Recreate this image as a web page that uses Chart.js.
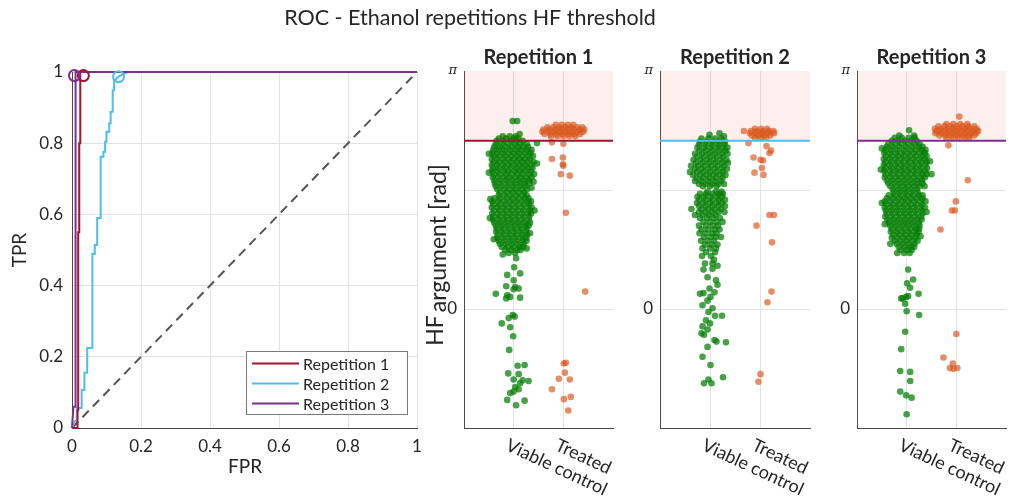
<!DOCTYPE html>
<html><head><meta charset="utf-8">
<script src="https://cdn.jsdelivr.net/npm/chart.js@4.4.0/dist/chart.umd.min.js"></script>
<style>
html,body{margin:0;padding:0;background:#fff;}
#wrap{position:relative;width:1019px;height:501px;overflow:hidden;background:#fff;}
canvas{position:absolute;left:0;top:0;}
</style></head><body>
<div id="wrap">
<canvas id="roc" width="1019" height="501"></canvas>
<canvas id="r1" width="1019" height="501"></canvas>
<canvas id="r2" width="1019" height="501"></canvas>
<canvas id="r3" width="1019" height="501"></canvas>
</div>
<script>
// ---------------- DATA ----------------
const figureTitle = 'ROC - Ethanol repetitions HF threshold';
const repetitionNames = ['Repetition 1', 'Repetition 2', 'Repetition 3'];
const categories = ['Viable control', 'Treated'];
const categoryPositions = [1, 2];
const rocTicks = [0, 0.2, 0.4, 0.6, 0.8, 1];
const rocChance = [[0, 0], [1, 1]];
// ROC curves [FPR, TPR]
const rocRep1 = [[0,0],[0.016,0],[0.016,0.05],[0.018,0.05],[0.018,0.55],[0.021,0.55],[0.021,0.8],[0.024,0.8],[0.024,1],[1,1]];
const rocRep2 = [[0,0],[0.009,0.02],[0.014,0.02],[0.014,0.056],[0.028,0.056],[0.028,0.107],[0.036,0.107],[0.036,0.155],[0.044,0.155],[0.044,0.225],[0.059,0.225],[0.059,0.489],[0.066,0.489],[0.066,0.514],[0.073,0.514],[0.073,0.59],[0.083,0.59],[0.083,0.762],[0.091,0.762],[0.091,0.776],[0.096,0.776],[0.096,0.804],[0.100,0.804],[0.100,0.832],[0.108,0.832],[0.108,0.856],[0.112,0.856],[0.112,0.888],[0.118,0.888],[0.118,0.949],[0.122,0.949],[0.122,0.975],[0.135,0.987],[0.16,1],[1,1]];
const rocRep3 = [[0,0],[0.004,0.06],[0.009,0.06],[0.009,0.97],[0.011,0.97],[0.011,1],[1,1]];
// operating points (FPR, TPR) for each repetition
const operatingFPR = [0.033, 0.135, 0.007];
const operatingTPR = [0.99, 0.987, 0.99];
// HF thresholds [rad]
const thresholds = [2.22, 2.22, 2.22];
const phaseTicks = [-Math.PI / 2, 0, Math.PI / 2, Math.PI];

// swarm rows: [HF argument (rad), [jitter offsets from category centre]]
const rep1Viable = [
[2.48,[-0.02,0.07]],[2.19,[0.47]],[2.31,[0.12]],
[2.28,[-0.22,-0.08,0.04]],[2.25,[-0.30,-0.15,0.00,0.09]],[2.22,[-0.34,-0.20,-0.05,0.06,0.18]],
[2.18,[-0.36,-0.24,-0.11,0.02,0.13,0.26]],[2.14,[-0.39,-0.28,-0.16,-0.04,0.08,0.19,0.29]],
[2.10,[-0.41,-0.30,-0.19,-0.07,0.05,0.16,0.27,0.36]],[2.06,[-0.43,-0.33,-0.21,-0.10,0.01,0.12,0.24,0.34]],
[2.02,[-0.40,-0.29,-0.17,-0.05,0.07,0.18,0.30,0.39]],[1.98,[-0.44,-0.34,-0.22,-0.11,0.00,0.11,0.22,0.33]],
[1.94,[-0.41,-0.30,-0.18,-0.06,0.06,0.17,0.28,0.40]],[1.90,[-0.44,-0.33,-0.21,-0.09,0.03,0.14,0.25,0.36]],
[1.86,[-0.42,-0.31,-0.19,-0.07,0.05,0.16,0.27,0.38]],[1.82,[-0.43,-0.32,-0.20,-0.10,0.02,0.13,0.24,0.35]],
[1.78,[-0.40,-0.28,-0.16,-0.05,0.07,0.18,0.30,0.41]],[1.74,[-0.42,-0.31,-0.19,-0.08,0.04,0.15,0.26,0.36]],
[1.70,[-0.39,-0.27,-0.15,-0.03,0.09,0.20,0.31]],[1.66,[-0.38,-0.26,-0.13,-0.01,0.11,0.22,0.32]],
[1.62,[-0.36,-0.24,-0.12,0.00,0.12,0.24]],[1.58,[-0.33,-0.20,-0.08,0.04,0.16,0.27]],
[1.54,[-0.28,-0.15,-0.03,0.09,0.21]],[1.50,[-0.30,-0.18,-0.06,0.06,0.18,0.26]],
[1.46,[-0.39,-0.27,-0.14,-0.02,0.10,0.22,0.30]],[1.42,[-0.43,-0.31,-0.19,-0.07,0.05,0.17,0.29,0.35]],
[1.38,[-0.41,-0.29,-0.17,-0.05,0.07,0.19,0.31]],[1.34,[-0.44,-0.32,-0.20,-0.08,0.04,0.16,0.28,0.36]],
[1.30,[-0.40,-0.28,-0.16,-0.04,0.08,0.20,0.32]],[1.26,[-0.43,-0.31,-0.19,-0.07,0.05,0.17,0.29,0.35]],
[1.22,[-0.41,-0.29,-0.17,-0.05,0.07,0.19,0.31]],[1.18,[-0.42,-0.30,-0.18,-0.06,0.06,0.18,0.30]],
[1.14,[-0.39,-0.27,-0.15,-0.03,0.09,0.21,0.33]],[1.10,[-0.36,-0.24,-0.12,0.00,0.12,0.24,0.30]],
[1.06,[-0.34,-0.22,-0.10,0.02,0.14,0.26]],[1.02,[-0.35,-0.23,-0.11,0.01,0.13,0.25]],
[0.98,[-0.32,-0.20,-0.08,0.04,0.16,0.27]],[0.94,[-0.33,-0.21,-0.09,0.03,0.15,0.25]],
[0.90,[-0.30,-0.18,-0.06,0.06,0.18,0.26]],[0.86,[-0.28,-0.16,-0.04,0.08,0.20]],
[0.82,[-0.24,-0.12,0.00,0.12,0.19]],[0.78,[-0.17,-0.05,0.07,0.14]],[0.74,[-0.10,0.03]],
[2.05,[-0.50]],[1.92,[0.47]],[1.80,[-0.50]],[1.68,[0.40]],[1.60,[0.36]],[1.45,[-0.47]],[1.30,[0.42]],
[1.20,[-0.48]],[1.00,[0.33]],[0.92,[-0.40]],[0.80,[0.26]],[0.72,[-0.22]],
[0.67,[0.05]],[0.55,[0.01]],[0.47,[0.13]],[0.45,[-0.13]],[0.38,[0.00]],[0.30,[-0.15]],[0.29,[0.03]],
[0.27,[0.10]],[0.26,[0.00]],[0.20,[-0.36]],[0.18,[-0.13]],[0.16,[-0.07]],[0.15,[0.13]],[0.14,[-0.15]],
[-0.08,[-0.02]],[-0.10,[0.02]],[-0.12,[-0.10]],[-0.19,[-0.24]],[-0.24,[-0.07]],[-0.36,[-0.01]],
[-0.54,[-0.09]],[-0.74,[0.22]],[-0.75,[0.08]],[-0.85,[-0.11]],[-0.86,[0.10]],[-0.93,[0.00]],
[-0.94,[0.18]],[-0.95,[0.30]],[-0.98,[0.13]],[-1.03,[0.03]],[-1.06,[0.10]],[-1.09,[0.00]],
[-1.11,[-0.07]],[-1.20,[-0.13]],[-1.21,[0.22]],[-1.27,[0.05]]
];
const rep1Treated = [
[2.43,[-0.15,-0.03,0.09,0.20]],[2.40,[-0.32,-0.20,-0.08,0.04,0.16,0.28,0.38]],
[2.37,[-0.40,-0.28,-0.16,-0.04,0.08,0.20,0.32,0.42]],[2.34,[-0.42,-0.30,-0.18,-0.06,0.06,0.18,0.30,0.40]],
[2.31,[-0.38,-0.26,-0.14,-0.02,0.10,0.22,0.34]],[2.28,[-0.25,-0.12,0.00,0.12,0.24]],
[2.20,[-0.23]],[2.18,[0.00]],[2.00,[-0.01]],[1.98,[-0.23]],[1.91,[-0.01]],[1.89,[0.00]],
[1.78,[-0.05]],[1.76,[0.13]],[1.27,[0.05]],[0.23,[0.44]],[-0.71,[0.05]],[-0.72,[0.01]],
[-0.84,[0.03]],[-0.92,[-0.09]],[-0.93,[0.13]],[-1.06,[-0.23]],[-1.16,[0.15]],[-1.19,[0.01]],[-1.34,[0.10]]
];
const rep2Viable = [
[2.32,[0.19]],[2.30,[-0.01]],[2.28,[0.28]],
[2.25,[-0.17,-0.03,0.10,0.22]],[2.21,[-0.20,-0.07,0.06,0.18,0.30]],[2.17,[-0.22,-0.09,0.04,0.17,0.29]],
[2.13,[-0.25,-0.12,0.01,0.14,0.26,0.35]],[2.09,[-0.21,-0.08,0.05,0.18,0.31]],
[2.05,[-0.30,-0.16,-0.03,0.10,0.23,0.35]],[2.01,[-0.26,-0.13,0.00,0.13,0.26]],
[1.97,[-0.33,-0.19,-0.06,0.07,0.20,0.33]],[1.93,[-0.28,-0.15,-0.02,0.11,0.24,0.36]],
[1.89,[-0.38,-0.24,-0.11,0.02,0.15,0.28]],[1.85,[-0.30,-0.17,-0.04,0.09,0.22,0.34]],
[1.81,[-0.40,-0.26,-0.13,0.00,0.13,0.26]],[1.77,[-0.34,-0.20,-0.07,0.06,0.19,0.31]],
[1.73,[-0.27,-0.14,-0.01,0.12,0.25]],[1.69,[-0.30,-0.17,-0.04,0.09,0.22]],
[1.65,[-0.22,-0.09,0.04,0.17,0.28]],[1.62,[-0.14,0.00,0.13]],
[1.55,[-0.05,0.12,0.23]],[1.52,[-0.20,-0.08,0.05,0.17,0.26]],[1.48,[-0.25,-0.12,0.01,0.14,0.24]],
[1.44,[-0.21,-0.08,0.05,0.18,0.30]],[1.40,[-0.26,-0.13,0.00,0.13,0.24]],
[1.36,[-0.22,-0.09,0.04,0.17,0.30]],[1.32,[-0.37,-0.17,-0.04,0.09,0.22]],
[1.28,[-0.22,-0.09,0.04,0.17,0.29]],[1.24,[-0.30,-0.15,-0.02,0.11]],[1.20,[-0.20,-0.06,0.07,0.20]],
[1.15,[-0.13,0.00,0.13,0.25]],[1.10,[-0.22,-0.08,0.05,0.16]],[1.05,[-0.17,-0.04,0.09,0.19]],
[1.00,[-0.21,-0.09,0.04,0.13]],[0.95,[-0.12,0.01,0.12,0.22]],[0.90,[-0.18,-0.05,0.08]],
[0.85,[-0.10,0.03,0.15]],[0.80,[-0.15,0.00,0.12]],[0.75,[-0.08,0.10]],[0.70,[-0.16,0.02]],
[0.65,[0.08]],[0.60,[-0.10,0.05]],[0.57,[0.15]],
[0.53,[0.05]],[0.52,[-0.13]],[0.42,[-0.05]],[0.38,[0.12]],[0.32,[0.15]],[0.27,[-0.01]],
[0.22,[0.09]],[0.21,[-0.13]],[0.20,[-0.20]],[0.16,[0.01]],[0.11,[-0.05]],[0.05,[-0.15]],
[0.01,[0.05]],[-0.04,[-0.03]],[-0.09,[0.10,0.24]],[-0.15,[-0.08]],[-0.19,[0.00]],[-0.23,[-0.15]],
[-0.27,[-0.05]],[-0.32,[-0.17]],[-0.34,[-0.12]],[-0.41,[0.09]],[-0.43,[0.13]],[-0.44,[0.32]],
[-0.50,[-0.05]],[-0.63,[-0.15]],[-0.74,[0.01]],[-0.90,[0.26]],[-0.93,[-0.03]],[-0.98,[-0.12,0.03]]
];
const rep2Treated = [
[2.38,[-0.10,0.02,0.14]],[2.35,[-0.32,-0.18,-0.06,0.06,0.18,0.27]],[2.32,[-0.20,-0.08,0.04,0.16,0.28]],
[2.29,[-0.16,-0.04,0.08,0.20]],[2.26,[-0.10,0.02,0.12]],
[2.19,[-0.23]],[2.15,[0.13]],[2.09,[0.22]],[2.06,[0.19]],[2.00,[-0.13]],[1.97,[0.01]],[1.96,[0.06]],
[1.86,[0.04]],[1.80,[-0.11]],[1.77,[0.07]],[1.24,[0.19,0.28]],[1.10,[-0.07]],[0.88,[0.24]],
[0.23,[0.23]],[0.09,[0.15]],[-0.86,[0.01]],[-0.96,[-0.03]]
];
const rep3Viable = [
[2.36,[0.05]],[2.29,[-0.15,0.15]],[2.26,[-0.24,-0.10,0.04,0.16]],[2.22,[-0.30,-0.17,-0.04,0.09,0.20]],
[2.18,[-0.37,-0.24,-0.11,0.02,0.15,0.26]],[2.14,[-0.40,-0.28,-0.15,-0.02,0.11,0.24,0.32]],
[2.10,[-0.43,-0.31,-0.19,-0.06,0.07,0.19,0.31,0.38]],[2.06,[-0.45,-0.33,-0.21,-0.09,0.03,0.15,0.27,0.37]],
[2.02,[-0.42,-0.30,-0.18,-0.06,0.06,0.18,0.30,0.40]],[1.98,[-0.46,-0.34,-0.22,-0.10,0.02,0.14,0.26,0.37]],
[1.94,[-0.43,-0.31,-0.19,-0.07,0.05,0.17,0.29,0.40]],[1.90,[-0.46,-0.34,-0.22,-0.10,0.02,0.14,0.26,0.38]],
[1.86,[-0.43,-0.31,-0.19,-0.07,0.05,0.17,0.29,0.41]],[1.82,[-0.45,-0.33,-0.21,-0.09,0.03,0.15,0.27,0.38]],
[1.78,[-0.42,-0.30,-0.18,-0.06,0.06,0.18,0.30,0.40,0.50]],[1.74,[-0.44,-0.32,-0.20,-0.08,0.04,0.16,0.28,0.37]],
[1.70,[-0.40,-0.28,-0.16,-0.04,0.08,0.20,0.31]],[1.66,[-0.37,-0.25,-0.13,-0.01,0.11,0.23,0.32]],
[1.62,[-0.33,-0.21,-0.09,0.03,0.15,0.26]],[1.58,[-0.28,-0.16,-0.04,0.08,0.20]],
[1.54,[-0.26,-0.14,-0.02,0.10,0.22]],[1.50,[-0.36,-0.24,-0.12,0.00,0.12,0.24,0.32]],
[1.46,[-0.40,-0.28,-0.16,-0.04,0.08,0.20,0.32]],[1.42,[-0.44,-0.32,-0.20,-0.08,0.04,0.16,0.28,0.38]],
[1.38,[-0.41,-0.29,-0.17,-0.05,0.07,0.19,0.31]],[1.34,[-0.44,-0.32,-0.20,-0.08,0.04,0.16,0.28,0.37]],
[1.30,[-0.42,-0.30,-0.18,-0.06,0.06,0.18,0.30]],[1.26,[-0.40,-0.28,-0.16,-0.04,0.08,0.20,0.32]],
[1.22,[-0.43,-0.31,-0.19,-0.07,0.05,0.17,0.29]],[1.18,[-0.39,-0.27,-0.15,-0.03,0.09,0.21,0.30]],
[1.14,[-0.36,-0.24,-0.12,0.00,0.12,0.24]],[1.10,[-0.33,-0.21,-0.09,0.03,0.15,0.26]],
[1.06,[-0.30,-0.18,-0.06,0.06,0.18,0.25]],[1.02,[-0.32,-0.20,-0.08,0.04,0.16,0.24]],
[0.98,[-0.27,-0.15,-0.03,0.09,0.20]],[0.94,[-0.30,-0.18,-0.06,0.06,0.18]],
[0.90,[-0.24,-0.12,0.00,0.12,0.22]],[0.86,[-0.20,-0.08,0.04,0.16]],[0.82,[-0.16,-0.04,0.08,0.15]],
[0.78,[-0.12,0.00,0.10]],[0.74,[-0.19,-0.05,0.06]],
[2.12,[-0.50]],[1.95,[0.47]],[1.84,[-0.52]],[1.62,[0.36]],[1.40,[-0.50]],[1.28,[0.40]],
[1.12,[-0.44]],[0.96,[0.28]],[0.86,[-0.33]],
[0.52,[0.03]],[0.39,[0.13]],[0.34,[0.01]],[0.28,[0.07]],[0.20,[0.24]],[0.17,[0.03]],[0.16,[-0.01]],
[0.14,[-0.08,-0.11]],[0.07,[-0.03]],[-0.03,[0.00]],[-0.08,[0.25]],[-0.30,[-0.03]],[-0.53,[-0.11]],
[-0.82,[-0.13]],[-0.83,[0.07]],[-0.95,[0.07]],[-1.09,[-0.13]],[-1.14,[-0.01]],[-1.17,[0.10]],[-1.39,[0.00]]
];
const rep3Treated = [
[2.44,[-0.20,-0.06,0.08,0.22]],[2.41,[-0.36,-0.24,-0.12,0.00,0.12,0.24,0.36]],
[2.38,[-0.43,-0.31,-0.19,-0.07,0.05,0.17,0.29,0.41]],[2.35,[-0.40,-0.28,-0.16,-0.04,0.08,0.20,0.32,0.44]],
[2.32,[-0.42,-0.30,-0.18,-0.06,0.06,0.18,0.30,0.40]],[2.29,[-0.34,-0.22,-0.10,0.02,0.14,0.26,0.36]],
[2.26,[-0.20,-0.08,0.04,0.16,0.26]],
[2.54,[0.06]],[2.16,[-0.16]],[1.70,[0.23]],[1.42,[-0.01]],[1.30,[-0.09,-0.03]],[1.05,[-0.32]],
[-0.33,[0.00]],[-0.64,[-0.26]],[-0.72,[-0.07]],[-0.78,[-0.13,0.02]],[-0.79,[-0.06]]
];

// ---------------- STYLE / HELPERS ----------------
const FONT = 'Lato, "Open Sans", sans-serif';
const TXT = '#262626';
const GRID = '#e2e2e2';
const AXIS = '#4a4a4a';
const repColors = ['#A2142F', '#4DBEEE', '#7E2F8E'];
const greenPt = 'rgba(0,125,0,0.72)';
const orangePt = 'rgba(217,83,25,0.66)';
const shade = 'rgba(225,95,85,0.1)';
Chart.defaults.font.family = FONT;
Chart.defaults.color = TXT;

const pairs = arr => arr.map(([x, y]) => ({x, y}));
const swarm = (rows, centre) => rows.flatMap(([y, dxs]) => dxs.map(dx => ({x: centre + dx, y})));
const fixSize = size => scale => { if (scale.isHorizontal()) scale.height = size; else scale.width = size; };
const fmtTick = v => String(Math.round(v * 10) / 10);

// ---------------- ROC ----------------
const rocText = {
  id: 'rocText',
  afterDraw(chart) {
    const ctx = chart.ctx;
    ctx.save();
    ctx.fillStyle = TXT;
    ctx.textAlign = 'center'; ctx.textBaseline = 'middle';
    ctx.font = '21.5px ' + FONT;
    ctx.fillText(figureTitle, 470, 18);
    ctx.font = '19px ' + FONT;
    ctx.fillText('FPR', 245, 467);
    ctx.save(); ctx.translate(20, 250); ctx.rotate(-Math.PI / 2); ctx.fillText('TPR', 0, 0); ctx.restore();
    // legend
    ctx.fillStyle = '#fff'; ctx.strokeStyle = '#7a7a7a'; ctx.lineWidth = 1;
    ctx.fillRect(246.5, 351.5, 161, 63); ctx.strokeRect(246.5, 351.5, 161, 63);
    ctx.textAlign = 'left'; ctx.font = '16px ' + FONT;
    repetitionNames.forEach((n, i) => {
      const y = 363.5 + i * 20;
      ctx.strokeStyle = repColors[i]; ctx.lineWidth = 2;
      ctx.beginPath(); ctx.moveTo(252, y); ctx.lineTo(299, y); ctx.stroke();
      ctx.fillStyle = TXT; ctx.fillText(n, 303, y + 1);
    });
    ctx.restore();
  }
};
const lineDs = (d, color, order) => ({data: pairs(d), showLine: true, borderColor: color, borderWidth: 2,
  pointRadius: 0, tension: 0, clip: 3, order});
new Chart(document.getElementById('roc'), {
  type: 'scatter',
  data: {datasets: [
    Object.assign(lineDs(rocChance, '#555555', 6), {borderDash: [9, 6]}),
    lineDs(rocRep2, repColors[1], 5),
    lineDs(rocRep1, repColors[0], 4),
    lineDs(rocRep3, repColors[2], 3),
    {data: operatingFPR.map((x, i) => ({x, y: operatingTPR[i]})), pointRadius: 5.5, pointBorderWidth: 2,
     pointBorderColor: repColors, pointBackgroundColor: 'rgba(0,0,0,0)', clip: false, order: 1}
  ]},
  options: {
    responsive: false, animation: false, events: [],
    layout: {padding: {left: 0, top: 72, right: 1019 - 417, bottom: 501 - 428 - 40}},
    plugins: {legend: {display: false}, tooltip: {enabled: false}},
    scales: {
      x: {type: 'linear', min: 0, max: 1, afterFit: fixSize(40),
          afterBuildTicks: s => { s.ticks = rocTicks.map(v => ({value: v})); },
          grid: {color: GRID, drawTicks: false}, border: {color: AXIS, width: 1},
          ticks: {font: {size: 17}, color: TXT, padding: 8, maxRotation: 0, autoSkip: false, callback: fmtTick}},
      y: {type: 'linear', min: 0, max: 1, afterFit: fixSize(72),
          afterBuildTicks: s => { s.ticks = rocTicks.map(v => ({value: v})); },
          grid: {color: GRID, drawTicks: false}, border: {color: AXIS, width: 1},
          ticks: {font: {size: 17}, color: TXT, padding: 9, autoSkip: false, callback: fmtTick}}
    }
  },
  plugins: [rocText]
});

// ---------------- SWARM PANELS ----------------
const repText = {
  id: 'repText',
  afterDraw(chart, args, opts) {
    const ctx = chart.ctx, a = chart.chartArea, xs = chart.scales.x;
    ctx.save();
    ctx.fillStyle = TXT;
    ctx.font = 'bold 20px ' + FONT; ctx.textAlign = 'center'; ctx.textBaseline = 'middle';
    ctx.fillText(opts.title, (a.left + a.right) / 2, 58);
    ctx.font = '18px ' + FONT; ctx.textAlign = 'left'; ctx.textBaseline = 'top';
    categories.forEach((c, i) => {
      const px = xs.getPixelForValue(categoryPositions[i]);
      ctx.save(); ctx.translate(px - 3, a.bottom + 8); ctx.rotate(25 * Math.PI / 180);
      ctx.fillText(c, 0, 0); ctx.restore();
    });
    if (opts.yLabel) {
      ctx.save();
      ctx.translate(443, 255); ctx.rotate(-Math.PI / 2);
      ctx.font = '23px ' + FONT; ctx.textBaseline = 'alphabetic';
      const w1 = ctx.measureText('HF').width, w2 = ctx.measureText('argument [rad]').width;
      const start = -(w1 + 3 + w2) / 2;
      ctx.fillText('HF', start, 0);
      ctx.fillText('argument [rad]', start + w1 + 3, 3);
      ctx.restore();
    }
    ctx.restore();
  }
};
function makePanel(id, i, left, right, viableRows, treatedRows) {
  const thr = thresholds[i];
  new Chart(document.getElementById(id), {
    type: 'scatter',
    data: {datasets: [
      {type: 'line', data: [{x: 0, y: Math.PI}, {x: 3, y: Math.PI}], fill: {value: thr},
       backgroundColor: shade, borderWidth: 0, pointRadius: 0, order: 10},
      {data: swarm(viableRows, categoryPositions[0]), backgroundColor: greenPt, borderWidth: 0, pointRadius: 3.3, order: 6},
      {data: swarm(treatedRows, categoryPositions[1]), backgroundColor: orangePt, borderWidth: 0, pointRadius: 3.3, order: 5},
      {type: 'line', data: [{x: 0, y: thr}, {x: 3, y: thr}], borderColor: repColors[i], borderWidth: 2,
       pointRadius: 0, fill: false, order: 1}
    ]},
    options: {
      responsive: false, animation: false, events: [],
      layout: {padding: {left: left - 40, top: 71, right: 1019 - right, bottom: 501 - 428 - 20}},
      plugins: {legend: {display: false}, tooltip: {enabled: false},
                repText: {title: repetitionNames[i], yLabel: i === 0}},
      scales: {
        x: {type: 'linear', min: 0, max: 3, afterFit: fixSize(20),
            afterBuildTicks: s => { s.ticks = categoryPositions.map(v => ({value: v})); },
            grid: {color: GRID, drawTicks: false}, border: {color: AXIS, width: 1},
            ticks: {display: false}},
        y: {type: 'linear', min: -Math.PI / 2, max: Math.PI, afterFit: fixSize(40),
            afterBuildTicks: s => { s.ticks = phaseTicks.map(v => ({value: v})); },
            grid: {color: c => (c.tick && c.tick.value > 3) ? 'rgba(0,0,0,0)' : GRID, drawTicks: false},
            border: {color: AXIS, width: 1},
            ticks: {autoSkip: false, color: TXT, padding: 7,
                    font: c => (c.tick && c.tick.value > 3) ? {size: 13, style: 'italic', family: '"DejaVu Serif", serif'} : {size: 17},
                    callback: v => v > 3 ? 'π' : (Math.abs(v) < 1e-9 ? '0' : '')}}
      }
    },
    plugins: [repText]
  });
}
makePanel('r1', 0, 464, 613, rep1Viable, rep1Treated);
makePanel('r2', 1, 660, 810, rep2Viable, rep2Treated);
makePanel('r3', 2, 857, 1006, rep3Viable, rep3Treated);
</script>
</body></html>
